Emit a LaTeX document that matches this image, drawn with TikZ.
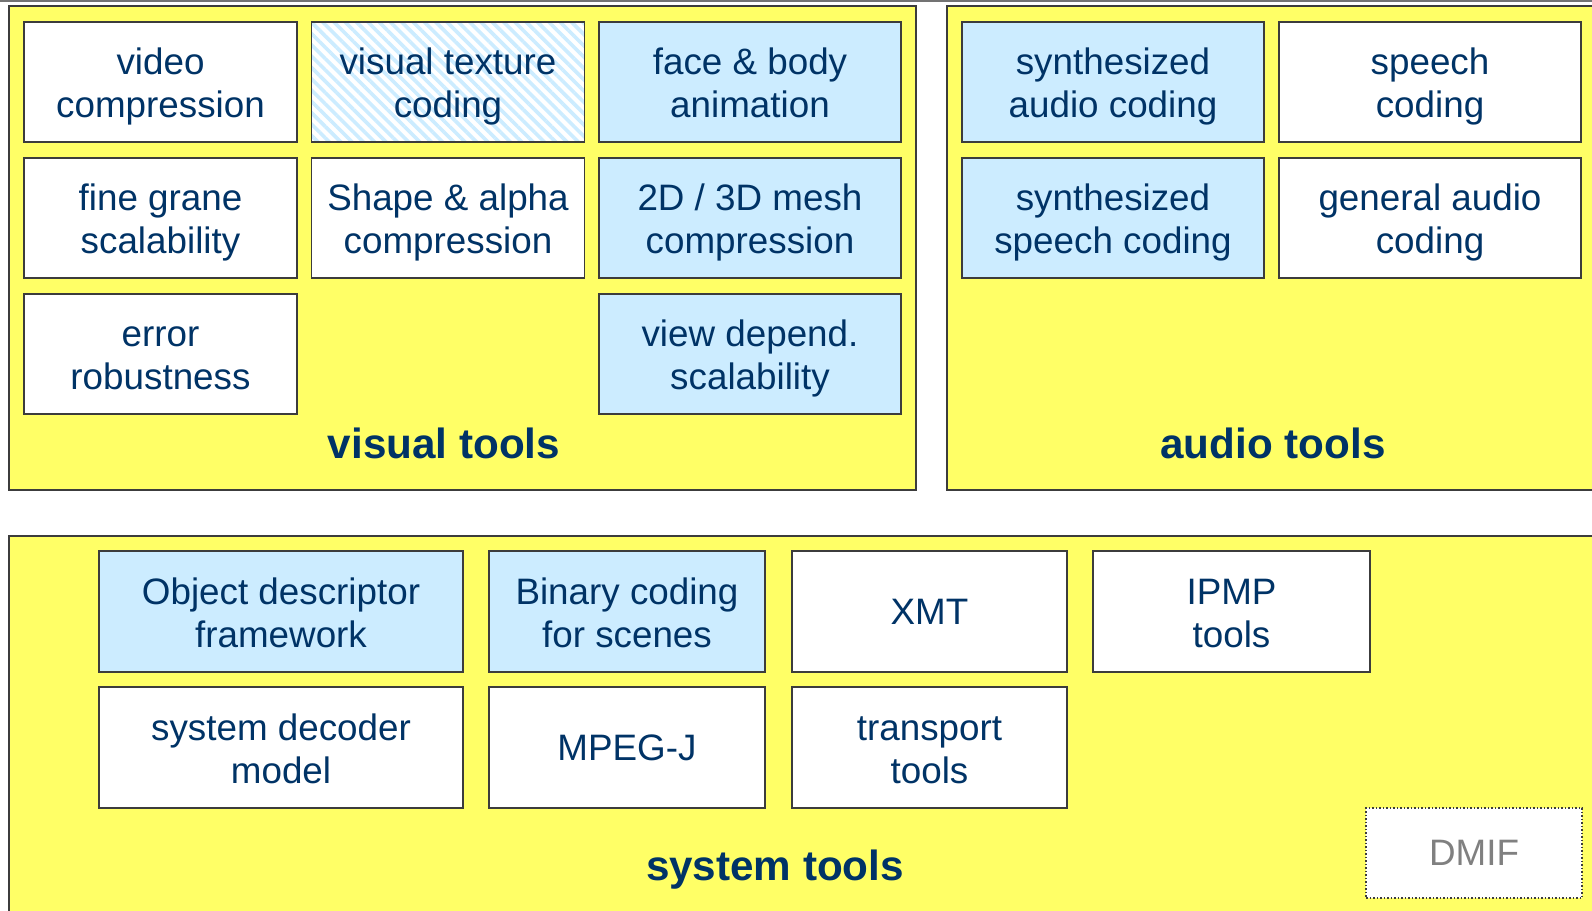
\documentclass[tikz,border=0pt]{standalone}
\usepackage{fontspec}
\setmainfont{Liberation Sans}
\usetikzlibrary{patterns.meta}
\definecolor{panelyellow}{HTML}{FFFF66}
\definecolor{toolblue}{HTML}{CCECFF}
\definecolor{toolnavy}{HTML}{003366}
\definecolor{edgegray}{HTML}{3C3C3C}
% two centred lines, struts keep the baselines even
\newcommand\twolines[2]{\rule{0pt}{35pt}#1\\#2\rule[-7pt]{0pt}{7pt}}

\tikzset{
  panel/.style={draw=edgegray,line width=2pt,fill=panelyellow},
  tool/.style={draw=edgegray,line width=1.5pt,fill=white,align=center,inner sep=0pt,
    text=toolnavy,font=\fontsize{36.8}{43}\selectfont},
  newtool/.style={tool,fill=toolblue},
  hatched/.style={tool,preaction={fill=white},
    pattern={Lines[angle=-45,distance=8pt,line width=3.6pt]},pattern color=toolblue},
  cellA/.style={minimum width=273pt,minimum height=120pt},
  cellB/.style={minimum width=302pt,minimum height=120pt},
  cellC/.style={minimum width=276pt,minimum height=121pt},
  grouplabel/.style={text=toolnavy,font=\fontsize{42.2}{48}\selectfont\bfseries}
}

\begin{document}
\begin{tikzpicture}[x=1pt,y=-1pt]
  \useasboundingbox (0,0) rectangle (1592,910);
  \draw[color=black!55,line width=2.5pt] (0,1) -- (1592,1);
  % the three tool groups
  \draw[panel] (9,6) rectangle (916,490);
  \draw[panel] (947,6) rectangle (1610,490);
  \draw[panel] (9,536) rectangle (1610,930);

  % visual tools
  \node[tool,cellA] (vidcomp) at (160.5,82) {\twolines{video}{compression}};
  \node[hatched,cellA] (vistex) at (448,82) {\twolines{visual texture}{coding}};
  \node[newtool,cellB] (facebody) at (750,82) {\twolines{face \& body}{animation}};
  \node[tool,cellA] (finegrane) at (160.5,218) {\twolines{fine grane}{scalability}};
  \node[tool,cellA] (shapealpha) at (448,218) {\twolines{Shape \& alpha}{compression}};
  \node[newtool,cellB] (mesh) at (750,218) {\twolines{2D / 3D mesh}{compression}};
  \node[tool,cellA] (errrob) at (160.5,354) {\twolines{error}{robustness}};
  \node[newtool,cellB] (viewdep) at (750,354) {\twolines{view depend.}{scalability}};
  \node[grouplabel] (visuallbl) at (444,443) {visual tools};

  % audio tools
  \node[newtool,cellB] (synaudio) at (1113,82) {\twolines{synthesized}{audio coding}};
  \node[tool,cellB] (speech) at (1430,82) {\twolines{speech}{coding}};
  \node[newtool,cellB] (synspeech) at (1113,218) {\twolines{synthesized}{speech coding}};
  \node[tool,cellB] (genaudio) at (1430,218) {\twolines{general audio}{coding}};
  \node[grouplabel] (audiolbl) at (1273,443) {audio tools};

  % system tools
  \node[newtool,cellC,minimum width=364pt] (objdesc) at (281,611.5) {\twolines{Object descriptor}{framework}};
  \node[newtool,cellC] (bifs) at (627,611.5) {\twolines{Binary coding}{for scenes}};
  \node[tool,cellC,minimum width=275pt] (xmt) at (929.5,611.5) {XMT};
  \node[tool,cellC,minimum width=277pt] (ipmp) at (1231.5,611.5) {\twolines{IPMP}{tools}};
  \node[tool,cellC,minimum width=364pt] (sysdec) at (281,747.5) {\twolines{system decoder}{model}};
  \node[tool,cellC] (mpegj) at (627,747.5) {MPEG-J};
  \node[tool,cellC,minimum width=275pt] (transport) at (929.5,747.5) {\twolines{transport}{tools}};
  \node[tool,dotted,text=black!50,minimum width=216pt,minimum height=90pt] (dmif) at (1474,853) {DMIF};
  \node[grouplabel] (systemlbl) at (775,870) {system tools};
\end{tikzpicture}
\end{document}
